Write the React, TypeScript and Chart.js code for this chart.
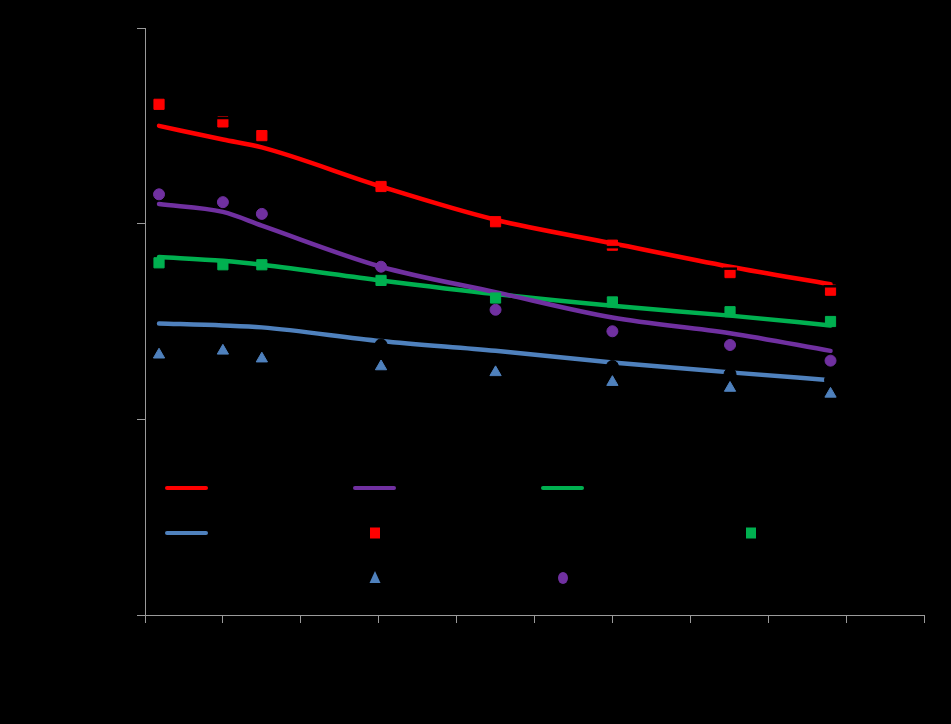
import React, { useEffect, useRef } from "react";
import { Chart, registerables } from "chart.js";

Chart.register(...registerables);

const xValues = [1.8, 10, 15, 30.3, 45, 60, 75.1, 88];

const redObserved = [26.1, 25.2, 24.5, 21.9, 20.1, 18.9, 17.5, 16.6];
const redFit = [25.0, 24.3, 23.9, 21.9, 20.2, 19.0, 17.8, 16.9];

const purpleObserved = [21.5, 21.1, 20.5, 17.8, 15.6, 14.5, 13.8, 13.0];
const purpleFit = [21.0, 20.6, 19.9, 17.8, 16.5, 15.2, 14.4, 13.5];

const greenObserved = [18.0, 17.9, 17.9, 17.1, 16.2, 16.0, 15.5, 15.0];
const greenFit = [18.3, 18.1, 17.9, 17.1, 16.4, 15.8, 15.3, 14.8];

const blueObserved = [13.3, 13.5, 13.1, 12.7, 12.4, 11.9, 11.6, 11.3];
const blueFit = [14.9, 14.8, 14.7, 14.0, 13.5, 12.9, 12.4, 12.0];

const blackDash: (number | null)[] = [null, 25.4, null, null, null, 18.8, 17.7, 16.8];
const blackCircle: (number | null)[] = [null, null, null, 13.8, null, 12.7, 12.3, 12.0];

const yTicks = [0, 10, 20, 30];
const xTicks = [0, 10, 20, 30, 40, 50, 60, 70, 80, 90, 100];

const toPoints = (ys: (number | null)[]) =>
  xValues.map((x, i) => ({ x, y: ys[i] }));

const RED = "#FF0000";
const PURPLE = "#7030A0";
const GREEN = "#00B050";
const BLUE = "#4F81BD";

type LegendItem = { label: string; kind: "line" | "rect" | "circle" | "triangle" | "dash"; color: string } | null;

const legendGrid: LegendItem[][] = [
  [
    { label: "Fit A", kind: "line", color: RED },
    { label: "Fit B", kind: "line", color: PURPLE },
    { label: "Fit C", kind: "line", color: GREEN },
    { label: "Ref 1", kind: "dash", color: "#000000" },
  ],
  [
    { label: "Fit D", kind: "line", color: BLUE },
    { label: "Obs A", kind: "rect", color: RED },
    { label: "Ref 2", kind: "circle", color: "#000000" },
    { label: "Obs C", kind: "rect", color: GREEN },
  ],
  [
    null,
    { label: "Obs D", kind: "triangle", color: BLUE },
    { label: "Obs B", kind: "circle", color: PURPLE },
    null,
  ],
];

const legendPlugin = {
  id: "insideLegend",
  afterDraw(chart: any) {
    const { ctx, chartArea } = chart;
    const colW = 188;
    const rowOffsets = [127, 82, 37];
    ctx.save();
    legendGrid.forEach((row, r) => {
      row.forEach((item, c) => {
        if (!item) return;
        const x0 = chartArea.left + 20 + c * colW;
        const y = chartArea.bottom - rowOffsets[r];
        const cx = x0 + 22;
        ctx.fillStyle = item.color;
        ctx.strokeStyle = item.color;
        if (item.kind === "line") {
          ctx.lineWidth = 4;
          ctx.lineCap = "round";
          ctx.beginPath();
          ctx.moveTo(x0 + 2, y);
          ctx.lineTo(x0 + 41, y);
          ctx.stroke();
        } else if (item.kind === "rect") {
          ctx.fillRect(cx - 5, y - 5.5, 10, 11);
        } else if (item.kind === "circle") {
          ctx.beginPath();
          ctx.ellipse(cx, y, 5, 6, 0, 0, Math.PI * 2);
          ctx.fill();
        } else if (item.kind === "triangle") {
          ctx.beginPath();
          ctx.moveTo(cx, y - 7);
          ctx.lineTo(cx + 5.5, y + 5);
          ctx.lineTo(cx - 5.5, y + 5);
          ctx.closePath();
          ctx.fill();
        } else if (item.kind === "dash") {
          ctx.lineWidth = 3;
          ctx.beginPath();
          ctx.moveTo(cx - 7, y);
          ctx.lineTo(cx + 7, y);
          ctx.stroke();
        }
        ctx.fillStyle = "#000000";
        ctx.font = "16px 'Liberation Sans', Arial, sans-serif";
        ctx.textBaseline = "middle";
        ctx.fillText(item.label, x0 + 48, y);
      });
    });
    ctx.restore();
  },
};

const fitLine = (label: string, data: number[], color: string) => ({
  label,
  data: toPoints(data),
  borderColor: color,
  backgroundColor: color,
  borderWidth: 4.5,
  pointRadius: 0,
  showLine: true,
  tension: 0.4,
  cubicInterpolationMode: "monotone" as const,
  borderCapStyle: "round" as const,
  order: 2,
});

const markers = (label: string, data: (number | null)[], color: string, style: string, radius: number) => ({
  label,
  data: toPoints(data),
  borderColor: color,
  backgroundColor: color,
  pointStyle: style,
  pointRadius: radius,
  pointBorderWidth: 1,
  showLine: false,
  order: 1,
});

export default function App() {
  const canvasRef = useRef<HTMLCanvasElement | null>(null);

  useEffect(() => {
    if (!canvasRef.current) return;
    const chart = new Chart(canvasRef.current, {
      type: "scatter",
      data: {
        datasets: [
          fitLine("Fit A", redFit, RED),
          fitLine("Fit B", purpleFit, PURPLE),
          fitLine("Fit C", greenFit, GREEN),
          fitLine("Fit D", blueFit, BLUE),
          markers("Obs A", redObserved, RED, "rect", 7.2),
          markers("Obs B", purpleObserved, PURPLE, "circle", 5.5),
          markers("Obs C", greenObserved, GREEN, "rect", 7.2),
          markers("Obs D", blueObserved, BLUE, "triangle", 6.5),
          {
            label: "Ref 1",
            data: toPoints(blackDash),
            borderColor: "#000000",
            backgroundColor: "#000000",
            pointStyle: "line",
            pointRadius: 7,
            pointBorderWidth: 2.5,
            showLine: false,
            order: 0,
          },
          {
            label: "Ref 2",
            data: toPoints(blackCircle),
            borderColor: "#000000",
            backgroundColor: "#000000",
            pointStyle: "circle",
            pointRadius: 6,
            showLine: false,
            order: 0,
          },
        ] as any,
      },
      options: {
        responsive: false,
        animation: false,
        maintainAspectRatio: false,
        layout: { padding: { top: 28, right: 27, left: 0, bottom: 0 } },
        plugins: {
          legend: { display: false },
          tooltip: { enabled: false },
        },
        scales: {
          x: {
            type: "linear",
            min: xTicks[0],
            max: xTicks[xTicks.length - 1],
            afterBuildTicks: (scale: any) => {
              scale.ticks = xTicks.map((v) => ({ value: v }));
            },
            afterFit: (scale: any) => {
              scale.height = 109;
            },
            ticks: { color: "#000000", font: { size: 16 } },
            grid: {
              display: true,
              drawOnChartArea: false,
              drawTicks: true,
              tickLength: 8,
              color: "#9a9a9a",
            },
            border: { display: true, color: "#9a9a9a", width: 1 },
          },
          y: {
            type: "linear",
            min: yTicks[0],
            max: yTicks[yTicks.length - 1],
            afterBuildTicks: (scale: any) => {
              scale.ticks = yTicks.map((v) => ({ value: v }));
            },
            afterFit: (scale: any) => {
              scale.width = 145;
            },
            ticks: { color: "#000000", font: { size: 16 } },
            grid: {
              display: true,
              drawOnChartArea: false,
              drawTicks: true,
              tickLength: 8,
              color: "#9a9a9a",
            },
            border: { display: true, color: "#9a9a9a", width: 1 },
          },
        },
      } as any,
      plugins: [legendPlugin],
    });
    return () => chart.destroy();
  }, []);

  return (
    <div
      style={{
        position: "absolute",
        left: 0,
        top: 0,
        width: 951,
        height: 724,
        background: "#000000",
      }}
    >
      <canvas ref={canvasRef} width={951} height={724} style={{ display: "block" }} />
    </div>
  );
}
